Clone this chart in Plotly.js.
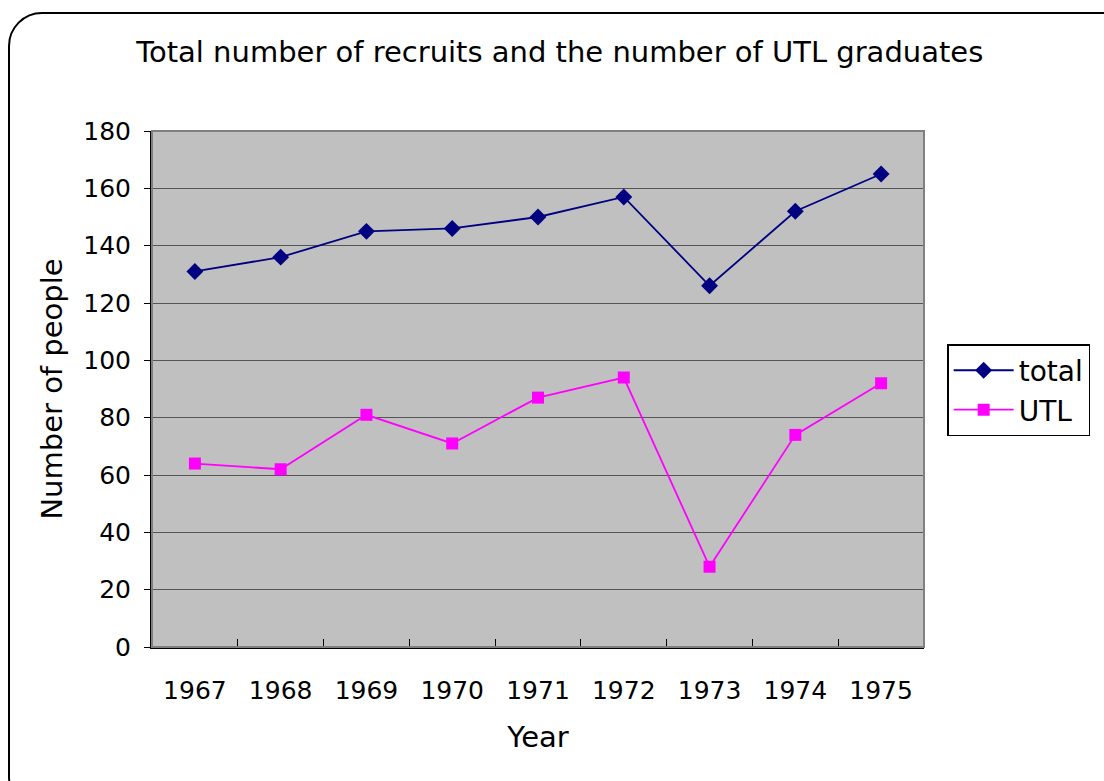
<!DOCTYPE html>
<html><head><meta charset="utf-8">
<script src="https://cdn.plot.ly/plotly-3.0.1.min.js"></script>
<style>
body{margin:0;padding:0;background:#fff;overflow:hidden}
#chart{width:1104px;height:781px;position:absolute;left:0;top:0}
#frame{position:absolute;left:8px;top:12px;width:1130px;height:800px;border:2px solid #000;border-radius:34px;pointer-events:none;box-sizing:border-box}
</style></head>
<body>
<div id="chart"></div>
<div id="frame"></div>
<script>
const years = ['1967','1968','1969','1970','1971','1972','1973','1974','1975'];
const total = [131, 136, 145, 146, 150, 157, 126, 152, 165];
const utl = [64, 62, 81, 71, 87, 94, 28, 74, 92];

const FONT = 'DejaVu Sans, sans-serif';
const traces = [
  {x: years, y: total, name: 'total', type: 'scatter', mode: 'lines+markers',
   line: {color: '#000080', width: 1.8}, marker: {symbol: 'diamond', size: 13, color: '#000080'}},
  {x: years, y: utl, name: 'UTL', type: 'scatter', mode: 'lines+markers',
   line: {color: '#FF00FF', width: 1.8}, marker: {symbol: 'square', size: 12, color: '#FF00FF'}}
];
const layout = {
  width: 1104, height: 781,
  paper_bgcolor: '#ffffff', plot_bgcolor: '#C0C0C0',
  font: {family: FONT, color: '#000'},
  margin: {l: 152, r: 180, t: 131, b: 134},
  title: {text: 'Total number of recruits and the number of UTL graduates', font: {size: 29, family: FONT}, x: 0.507, xanchor: 'center', y: 0.933, yanchor: 'middle'},
  xaxis: {type: 'category', range: [-0.5, 8.5], tickson: 'boundaries', ticks: 'inside', ticklen: 8, tickcolor: '#000',
    showline: true, linecolor: '#000', linewidth: 2, mirror: false, showgrid: false, ticklabelstandoff: 20,
    tickfont: {size: 25}, title: {text: 'Year', font: {size: 29}, standoff: 23}, fixedrange: true},
  yaxis: {range: [0, 180], dtick: 20, ticks: 'outside', ticklen: 6, tickcolor: '#000',
    showline: true, linecolor: '#000', linewidth: 2, showgrid: true, gridcolor: '#555555', gridwidth: 1,
    zeroline: false, tickfont: {size: 25}, ticklabelstandoff: 8, title: {text: 'Number of people', font: {size: 29}, standoff: 12}, fixedrange: true},
  legend: {x: 1.03, xanchor: 'left', y: 0.498, yanchor: 'middle', bgcolor: '#fff', bordercolor: '#000', borderwidth: 1.5,
    font: {size: 28}, itemwidth: 60, tracegroupgap: 0},
  shapes: [{type: 'rect', xref: 'paper', yref: 'paper', x0: 0, x1: 1, y0: 0, y1: 1, line: {color: '#808080', width: 2}, fillcolor: 'rgba(0,0,0,0)', layer: 'above'}],
  showlegend: true
};
Plotly.newPlot('chart', traces, layout, {staticPlot: true, displayModeBar: false});
</script>
</body></html>
